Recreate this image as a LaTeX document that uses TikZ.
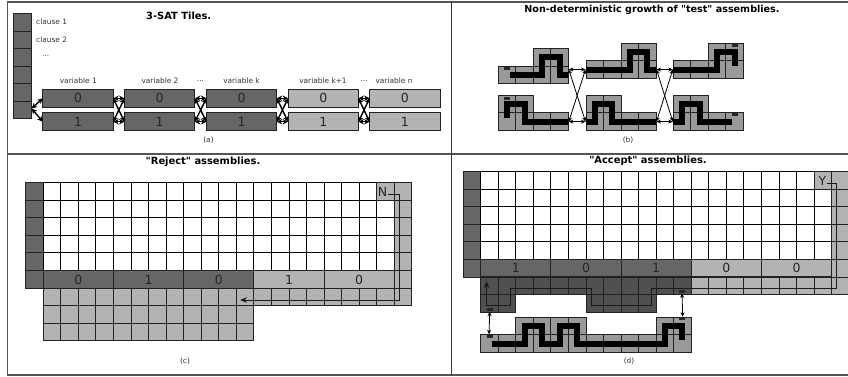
\documentclass[tikz,border=0pt]{standalone}
\usepackage{fontspec}
\setmainfont{DejaVu Sans}
\newfontfamily\plainquotes{DejaVu Sans}
\usetikzlibrary{arrows.meta}
\definecolor{darktile}{HTML}{666666}
\definecolor{darkertile}{HTML}{505050}
\definecolor{lighttile}{HTML}{B3B3B3}
\definecolor{testtile}{HTML}{999999}
\definecolor{edgecol}{HTML}{222222}
\definecolor{framecol}{HTML}{555555}
\definecolor{labcol}{HTML}{333333}
\tikzset{
  frameline/.style={draw=framecol,line width=1.2pt},
  whitecell/.style={draw=black,line width=1pt,fill=white},
  darkcell/.style={draw=edgecol,line width=1pt,fill=darktile},
  darkercell/.style={draw=edgecol,line width=1pt,fill=darkertile},
  lightcell/.style={draw=edgecol,line width=1pt,fill=lighttile},
  testcell/.style={draw=edgecol,line width=1pt,fill=testtile},
  darkbox/.style={draw=edgecol,line width=1pt,fill=darktile,minimum width=70.4pt,minimum height=17.8pt,inner sep=0pt,outer sep=0pt,font=\fontsize{12.5}{12.5}\selectfont,text=black!85},
  lightbox/.style={darkbox,fill=lighttile},
  smalltext/.style={font=\fontsize{7.4}{8}\selectfont,text=labcol,inner sep=0pt},
  titletext/.style={font=\fontsize{9.9}{11}\selectfont\plainquotes\bfseries,text=black,inner sep=0pt},
  thickpath/.style={draw=black,line width=6pt,line join=miter},
  bar/.style={fill=black!85},
  biarrow/.style={draw=black,line width=0.8pt,{Stealth[length=4.5pt,width=4pt]}-{Stealth[length=4.5pt,width=4pt]}},
  heavyarrow/.style={draw=black,line width=1.4pt,{Stealth[length=5.5pt,width=5.5pt]}-{Stealth[length=5.5pt,width=5.5pt]}},
  pathline/.style={draw=black!90,line width=1pt},
}
\newcommand{\tilecell}[5]{\path[#1] ({#2+#4*17.55},{#3+#5*17.55}) rectangle ++(17.55,17.55);}
\newcommand{\twocell}[1]{\foreach \i/\j in {#1}{\path[testcell] ({\i*17.5},{\j*17.6}) rectangle ++(17.5,17.6);}}
\begin{document}
\begin{tikzpicture}[x=1pt,y=-1pt]
\useasboundingbox (0,0) rectangle (848,376);
% frame
\draw[frameline] (860,2) -- (7.7,2) -- (7.7,375) -- (860,375);
\draw[frameline,line width=1.6pt] (7.7,153.8) -- (860,153.8);
\draw[frameline,draw=black!80,line width=1pt] (451.7,2) -- (451.7,375);

%% panel a
\foreach \r in {0,...,5}{\path[darkcell] (13.5,{13.5+\r*17.55}) rectangle ++(18,17.55);}
\coordinate (clauseout) at (31.7,108.5);
\node[titletext] (ta) at (178.7,16) {3-SAT Tiles.};
\node[smalltext,anchor=west] (c1) at (36,22) {clause 1};
\node[smalltext,anchor=west] (c2) at (36,40) {clause 2};
\node[smalltext,anchor=west] (c3) at (42,56.5) {...};
\node[smalltext] (l1) at (78.3,81) {variable 1};
\node[smalltext] (l2) at (160,81) {variable 2};
\node[smalltext] (d1) at (200.5,81.5) {...};
\node[smalltext] (l3) at (241.5,81) {variable k};
\node[smalltext] (l4) at (323,81) {variable k+1};
\node[smalltext] (d2) at (364,81.5) {...};
\node[smalltext] (l5) at (394,81) {variable n};
\node[smalltext] (capa) at (208.5,140) {(a)};
\node[darkbox] (a1) at (78,98.3) {0};
\node[darkbox] (b1) at (78,121.7) {1};
\node[darkbox] (a2) at (159.7,98.3) {0};
\node[darkbox] (b2) at (159.7,121.7) {1};
\node[darkbox] (a3) at (241.6,98.3) {0};
\node[darkbox] (b3) at (241.6,121.7) {1};
\node[lightbox] (a4) at (323.3,98.3) {0};
\node[lightbox] (b4) at (323.3,121.7) {1};
\node[lightbox] (a5) at (404.8,98.3) {0};
\node[lightbox] (b5) at (404.8,121.7) {1};
\draw[heavyarrow] (clauseout) -- (a1.west);
\draw[heavyarrow] (clauseout) -- (b1.west);
\foreach \p/\q in {1/2,2/3,3/4,4/5}{
  \draw[heavyarrow] (a\p.east) -- (a\q.west);
  \draw[heavyarrow] (b\p.east) -- (b\q.west);
  \draw[heavyarrow] (a\p.east) -- (b\q.west);
  \draw[heavyarrow] (b\p.east) -- (a\q.west);
}

%% panel b
\node[titletext,font=\fontsize{9.6}{11}\selectfont\plainquotes\bfseries] (tb) at (652,10) {Non-deterministic growth of "test" assemblies.};
\node[smalltext] (capb) at (628,140) {(b)};
\begin{scope}[shift={(498.3,66.2)}]
  \twocell{0/0,1/0,2/0,3/0,2/-1,3/-1}
  \path[bar] (5.7,0.8) rectangle (11.7,3.8);
  \draw[thickpath] (11.7,8.8) -- (43.75,8.8) -- (43.75,-8.8) -- (61.25,-8.8) -- (61.25,8.8) -- (70,8.8);
  \coordinate (p1) at (70.5,3.3);
\end{scope}
\begin{scope}[shift={(498.3,112.8)}]
  \twocell{0/0,1/0,2/0,3/0,0/-1,1/-1}
  \path[bar] (5.7,-16.3) rectangle (11.7,-13.3);
  \draw[thickpath] (8.75,5.5) -- (8.75,-8.8) -- (26.25,-8.8) -- (26.25,8.8) -- (70,8.8);
  \coordinate (q1) at (70.5,8.8);
\end{scope}
\begin{scope}[shift={(586,60.7)}]
  \twocell{0/0,1/0,2/0,3/0,2/-1,3/-1}
  \draw[thickpath] (0,8.8) -- (43.75,8.8) -- (43.75,-8.8) -- (61.25,-8.8) -- (61.25,8.8) -- (70,8.8);
  \coordinate (p2) at (-0.5,8.8);
  \coordinate (p3) at (70.5,8.8);
\end{scope}
\begin{scope}[shift={(586,112.8)}]
  \twocell{0/0,1/0,2/0,3/0,0/-1,1/-1}
  \draw[thickpath] (0,8.8) -- (8.75,8.8) -- (8.75,-8.8) -- (26.25,-8.8) -- (26.25,8.8) -- (70,8.8);
  \coordinate (q2) at (-0.5,8.8);
  \coordinate (q3) at (70.5,8.8);
\end{scope}
\begin{scope}[shift={(673.3,60.7)}]
  \twocell{0/0,1/0,2/0,3/0,2/-1,3/-1}
  \path[bar] (58.4,-17) rectangle (64.4,-14);
  \draw[thickpath] (0,8.8) -- (43.75,8.8) -- (43.75,-8.8) -- (61.25,-8.8) -- (61.25,5);
  \coordinate (p4) at (-0.5,8.8);
\end{scope}
\begin{scope}[shift={(673.3,112.8)}]
  \twocell{0/0,1/0,2/0,3/0,0/-1,1/-1}
  \path[bar] (58.4,0.5) rectangle (64.4,3.5);
  \draw[thickpath] (0,8.8) -- (8.75,8.8) -- (8.75,-8.8) -- (26.25,-8.8) -- (26.25,8.8) -- (58.4,8.8);
  \coordinate (q4) at (-0.5,8.8);
\end{scope}
\foreach \p/\q in {1/2,3/4}{
  \draw[biarrow] (p\p) -- (p\q);
  \draw[biarrow] (q\p) -- (q\q);
  \draw[biarrow] (p\p) -- (q\q);
  \draw[biarrow] (q\p) -- (p\q);
}

%% panel c
\def\cx{43.3}\def\cy{182.7}
\node[titletext] (tc) at (203,162) {"Reject" assemblies.};
\node[smalltext] (capc) at (185,361) {(c)};
\foreach \r in {0,...,5}{\tilecell{darkcell}{\cx}{\cy}{-1}{\r}}
\foreach \r in {0,...,4}{\foreach \c in {0,...,19}{\tilecell{whitecell}{\cx}{\cy}{\c}{\r}}}
\tilecell{lightcell}{\cx}{\cy}{19}{0}
\foreach \r in {0,...,6}{\tilecell{lightcell}{\cx}{\cy}{20}{\r}}
\foreach \c in {0,...,19}{\tilecell{lightcell}{\cx}{\cy}{\c}{6}}
\foreach \r in {7,8}{\foreach \c in {0,...,11}{\tilecell{lightcell}{\cx}{\cy}{\c}{\r}}}
\node[darkbox,minimum width=70.2pt,minimum height=17.55pt] (c0) at (78.4,279.5) {0};
\node[darkbox,minimum width=70.2pt,minimum height=17.55pt] (c1t) at (148.6,279.5) {1};
\node[darkbox,minimum width=70.2pt,minimum height=17.55pt] (c2t) at (218.8,279.5) {0};
\node[lightbox,minimum width=70.2pt,minimum height=17.55pt] (c3t) at (289,279.5) {1};
\node[lightbox,minimum width=70.2pt,minimum height=17.55pt] (c4t) at (359.2,279.5) {0};
\node[font=\fontsize{12.5}{12.5}\selectfont,text=black!85,inner sep=0pt,outer sep=1pt] (nlab) at (382.5,192) {N};
\coordinate (cc1) at (399.3,194.5);
\coordinate (cc2) at (399.3,300);
\coordinate (cend) at (240,300);
\draw[pathline,-{Stealth[length=7pt,width=5.5pt]}] (nlab.east |- cc1) -- (cc1) -- (cc2) -- (cend);

%% panel d
\def\dx{480.7}\def\dy{171.7}
\node[titletext] (td) at (648,161) {"Accept" assemblies.};
\node[smalltext] (capd) at (629,361) {(d)};
\foreach \r in {0,...,5}{\tilecell{darkcell}{\dx}{\dy}{-1}{\r}}
\foreach \r in {0,...,4}{\foreach \c in {0,...,19}{\tilecell{whitecell}{\dx}{\dy}{\c}{\r}}}
\tilecell{lightcell}{\dx}{\dy}{19}{0}
\foreach \r in {0,...,6}{\tilecell{lightcell}{\dx}{\dy}{20}{\r}}
\foreach \c in {12,...,19}{\tilecell{lightcell}{\dx}{\dy}{\c}{6}}
\foreach \c in {0,...,11}{\tilecell{darkercell}{\dx}{\dy}{\c}{6}}
\foreach \c in {0,1,6,7,8,9}{\tilecell{darkercell}{\dx}{\dy}{\c}{7}}
\node[darkbox,minimum width=70.2pt,minimum height=17.55pt] (d0) at (515.8,268) {1};
\node[darkbox,minimum width=70.2pt,minimum height=17.55pt] (d1t) at (586,268) {0};
\node[darkbox,minimum width=70.2pt,minimum height=17.55pt] (d2t) at (656.2,268) {1};
\node[lightbox,minimum width=70.2pt,minimum height=17.55pt] (d3t) at (726.4,268) {0};
\node[lightbox,minimum width=70.2pt,minimum height=17.55pt] (d4t) at (796.6,268) {0};
\node[font=\fontsize{12.5}{12.5}\selectfont,text=black!85,inner sep=0pt,outer sep=1pt] (ylab) at (822.5,181) {Y};
\coordinate (dd1) at (836.7,183);
\coordinate (dd2) at (836.7,288.6);
\coordinate (dd3) at (651,288.6);
\coordinate (dd4) at (651,305.3);
\coordinate (dd5) at (591,305.3);
\coordinate (dd6) at (591,288.6);
\coordinate (dd7) at (510,288.6);
\coordinate (dd8) at (510,305.3);
\coordinate (dd9) at (486.6,305.3);
\coordinate (dend) at (486.6,281);
\draw[pathline,-{Stealth[length=7pt,width=5.5pt]}] (ylab.east |- dd1) -- (dd1) -- (dd2) -- (dd3) -- (dd4) -- (dd5) -- (dd6) -- (dd7) -- (dd8) -- (dd9) -- (dend);
\coordinate (gl) at (489.7,308);
\coordinate (gr) at (682,291.6);
\path[bar] (486.7,308.2) rectangle (492.7,311.2);
\path[bar] (679,290) rectangle (685,293);
\begin{scope}[shift={(480.7,334.8)}]
  \foreach \c in {0,...,11}{\tilecell{testcell}{0}{0}{\c}{0}}
  \foreach \c in {2,3,4,5,10,11}{\tilecell{testcell}{0}{0}{\c}{-1}}
  \path[bar] (6,0.3) rectangle (12,3.3);
  \path[bar] (198.3,-17.4) rectangle (204.3,-14.4);
  \draw[thickpath] (11,8.8) -- (44,8.8) -- (44,-8.8) -- (61.4,-8.8) -- (61.4,8.8) -- (79,8.8) -- (79,-8.8) -- (96.5,-8.8) -- (96.5,8.8) -- (184.3,8.8) -- (184.3,-8.8) -- (201.6,-8.8) -- (201.6,5.5);
  \coordinate (gl2) at (8.3,-0.5);
  \coordinate (gr2) at (202,-18);
\end{scope}
\draw[biarrow] (gl |- 0,311.7) -- (gl2);
\draw[biarrow] (gr |- 0,293.3) -- (gr2);
\end{tikzpicture}
\end{document}
